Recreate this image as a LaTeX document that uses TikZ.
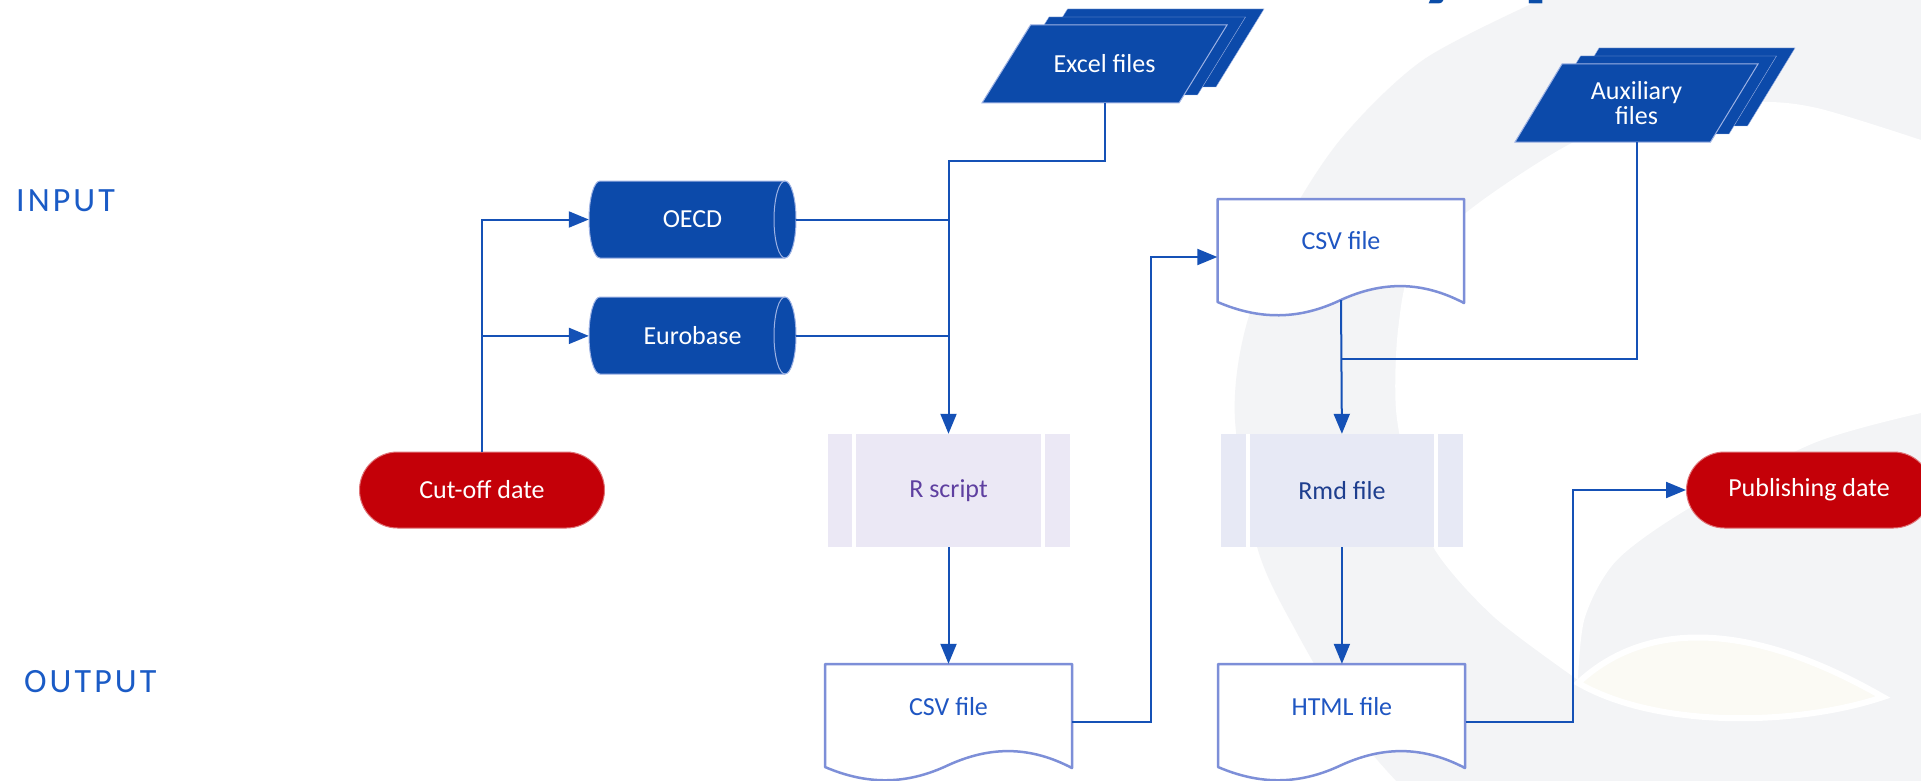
\documentclass[tikz,border=0pt]{standalone}
\usepackage{fontspec}
\setmainfont{Carlito}
\newfontfamily\sidefont[LetterSpace=9]{Carlito}
\usetikzlibrary{arrows.meta,shapes.misc,shadows,positioning,calc}

\definecolor{fileblue}{HTML}{0C4AAA}
\definecolor{edgeblue}{HTML}{9DB2E4}
\definecolor{cutred}{HTML}{C40008}
\definecolor{linkblue}{HTML}{1551B6}
\definecolor{docedge}{HTML}{7D8FD8}
\definecolor{doctext}{HTML}{1F56C2}
\definecolor{sidetext}{HTML}{1A5BC6}
\definecolor{rlav}{HTML}{EBE8F5}
\definecolor{rmdlav}{HTML}{E7E9F5}
\definecolor{rtext}{HTML}{5E3FA0}
\definecolor{rmdtext}{HTML}{1E3E8E}
\definecolor{bggray}{HTML}{F3F4F6}
\definecolor{leafcream}{HTML}{FBFAF4}
\definecolor{titleblue}{HTML}{0B4DA8}

\tikzset{
  txt/.style={font=\fontsize{26}{25}\selectfont},
  datanode/.style={txt,text=white,minimum width=207pt,minimum height=77pt,inner sep=0pt},
  terminal/.style={rounded rectangle,txt,fill=cutred,draw=cutred!55!white,line width=1pt,text=white,minimum width=245pt,minimum height=76pt,inner sep=0pt},
  subproc/.style={txt,minimum width=242pt,minimum height=113pt,inner sep=0pt},
  docnode/.style={txt,text=doctext,minimum width=247pt,inner sep=0pt,text height=18pt},
  filenode/.style={txt,text=white,minimum width=245pt,minimum height=78pt,inner sep=0pt,align=center},
  sidelabel/.style={font=\sidefont\fontsize{34}{38}\selectfont,text=sidetext,anchor=west,inner sep=0pt},
  link/.style={draw=linkblue,line width=2pt,-{Triangle[length=20pt,width=16pt]}},
  plainlink/.style={draw=linkblue,line width=2pt},
  docline/.style={draw=docedge,line width=2.5pt,fill=white,line join=round},
  dbshape/.style={fill=fileblue,draw=edgeblue,line width=1pt},
  filestack/.style={fill=fileblue,draw=edgeblue,line width=1pt,
    copy shadow={shadow xshift=37pt,shadow yshift=16pt,fill=fileblue,draw=edgeblue},
    copy shadow={shadow xshift=18.5pt,shadow yshift=8pt,fill=fileblue,draw=edgeblue}},
  strip/.style={draw=white,line width=4pt}
}

\begin{document}
\begin{tikzpicture}[x=1pt,y=-1pt]
\useasboundingbox (0,0) rectangle (1921,781);
%% background
\fill[white] (0,0) rectangle (1921,781);
\fill[bggray] plot[smooth] coordinates {(1540,0) (1423,60) (1340,140) (1283,230) (1245,330) (1235,420) (1258,550) (1297,633) (1356,733) (1400,785)}
  -- (1921,785) -- (1921,0) -- cycle;
\fill[white] plot[smooth] coordinates {(1921,140) (1817,108) (1752,102) (1650,112) (1568,145) (1476,205) (1414,262) (1398,330) (1396,410) (1410,480) (1435,550) (1494,617) (1578,680)}
  -- plot[smooth] coordinates {(1578,680) (1585,617) (1617,560) (1691,507) (1814,443) (1921,413)} -- cycle;
\filldraw[draw=white,line width=6pt,fill=leafcream] (1578,683) .. controls (1640,625) and (1740,615) .. (1883,697)
  .. controls (1800,725) and (1660,730) .. cycle;
\node[font=\fontsize{157}{160}\selectfont,text=titleblue,anchor=base west,inner sep=0pt] (title) at (1412,-21) {y p};
%% side labels
\node[sidelabel] (input) at (16,201) {INPUT};
\node[sidelabel] (output) at (24,682) {OUTPUT};
%% shapes
\draw[dbshape] (600,181) -- (785,181) arc[start angle=-90,end angle=90,x radius=11,y radius=38.5]
  -- (600,258) arc[start angle=90,end angle=270,x radius=11,y radius=38.5] -- cycle;
\draw[edgeblue,line width=1pt] (785,181) arc[start angle=-90,end angle=-270,x radius=11,y radius=38.5];
\draw[dbshape] (600,297) -- (785,297) arc[start angle=-90,end angle=90,x radius=11,y radius=38.5]
  -- (600,374) arc[start angle=90,end angle=270,x radius=11,y radius=38.5] -- cycle;
\draw[edgeblue,line width=1pt] (785,297) arc[start angle=-90,end angle=-270,x radius=11,y radius=38.5];
%
\draw[filestack] (982,103) -- (1179,103) -- (1227,25) -- (1030.5,25) -- cycle;
\draw[filestack] (1515,142) -- (1710.5,142) -- (1758,64) -- (1562,64) -- cycle;
%
\draw[docline] (825,664) -- (1072,664) -- (1072,768) .. controls (1030,746) and (990.5,746) .. (948.5,765)
  .. controls (906.5,785) and (867,785) .. (825,767) -- cycle;
\draw[docline] (1218,664) -- (1465,664) -- (1465,768) .. controls (1423,746) and (1383.5,746) .. (1341.5,765)
  .. controls (1299.5,785) and (1260,785) .. (1218,767) -- cycle;
\draw[docline] (1217.5,199) -- (1464,199) -- (1464,303) .. controls (1422,281) and (1382.5,281) .. (1340.75,300)
  .. controls (1299,320) and (1259.5,320) .. (1217.5,302) -- cycle;
%% nodes
\node[terminal] (cutoff) at (482,490) {Cut-off date};
\node[datanode] (oecd) at (692.5,219.5) {OECD};
\node[datanode,below=39pt of oecd] (eurobase) {Eurobase};
\node[filenode] (excel) at (1104.5,64) {Excel files};
\node[subproc,fill=rlav,text=rtext] (rscript) at (948.5,490.5) {R script};
\node[docnode,minimum height=116pt,text depth=31pt] (csvA) at (948.5,722) {CSV file};
\node[docnode,minimum height=86pt,text depth=33pt] (csvB) at (1341,257) {CSV file};
\node[filenode] (aux) at (1636.5,103) {Auxiliary\\files};
\node[subproc,fill=rmdlav,text=rmdtext,right=151pt of rscript] (rmd) {Rmd file};
\node[docnode,minimum height=116pt,text depth=31pt,right=146pt of csvA] (html) {HTML file};
\node[terminal] (publish) at (1809,490) {Publishing date};
\foreach \n in {rscript,rmd} {
  \draw[strip] ([xshift=27pt]\n.north west) -- ([xshift=27pt]\n.south west);
  \draw[strip] ([xshift=-27pt]\n.north east) -- ([xshift=-27pt]\n.south east);
}
%% edges
\draw[link] (cutoff.north) |- (oecd.west);
\draw[link] (cutoff.north) |- (eurobase.west);
\draw[plainlink] (oecd.east) -- (oecd.east -| rscript.north);
\draw[plainlink] (eurobase.east) -- (eurobase.east -| rscript.north);
\draw[link] (excel.south) -- ++(0,58) -| (rscript.north);
%
\draw[link] (rscript) -- (csvA);
\draw[link] (csvA.east) -- ++(79,0) |- (csvB.west);
\draw[plainlink] (aux.south) |- ([yshift=-59pt]csvB.south);
\draw[link] (csvB.south) -- (rmd.north);
\draw[link] (rmd) -- (html);
\draw[link] (html.east) -- ++(107,0) |- (publish.west);
\end{tikzpicture}
\end{document}
